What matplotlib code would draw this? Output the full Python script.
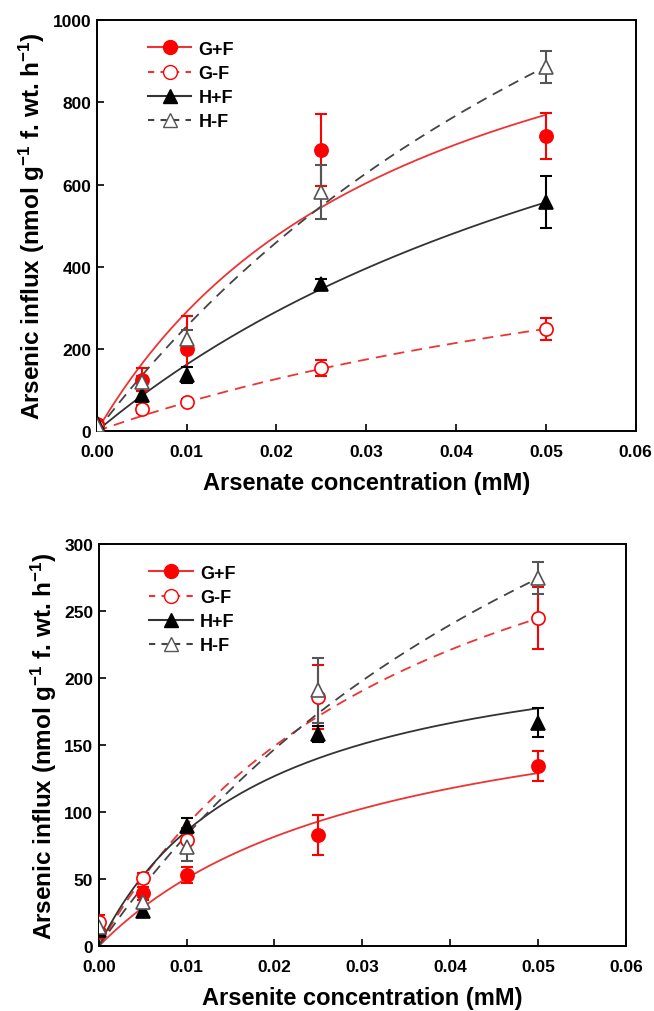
import numpy as np
import matplotlib
matplotlib.use('Agg')
import matplotlib.pyplot as plt

plt.rcParams['font.family'] = ['Liberation Sans', 'DejaVu Sans']
plt.rcParams['font.weight'] = 'bold'
plt.rcParams['axes.labelweight'] = 'bold'
plt.rcParams['mathtext.fontset'] = 'custom'
plt.rcParams['mathtext.rm'] = 'Liberation Sans:bold'
plt.rcParams['mathtext.it'] = 'Liberation Sans:bold'
plt.rcParams['mathtext.bf'] = 'Liberation Sans:bold'
plt.rcParams['mathtext.default'] = 'rm'

conc = [0.0, 0.005, 0.01, 0.025, 0.05]
labels = ['G+F', 'G-F', 'H+F', 'H-F']

# arsenate influx (top panel)
asv_mean = {
    'G+F': [18, 125, 200, 685, 718],
    'G-F': [12, 53, 71, 154, 249],
    'H+F': [20, 88, 137, 357, 558],
    'H-F': [15, 119, 224, 582, 886],
}
asv_err = {
    'G+F': [5, 28, 80, 88, 56],
    'G-F': [5, 10, 8, 20, 27],
    'H+F': [8, 18, 20, 14, 63],
    'H-F': [5, 14, 22, 65, 38],
}
# fitted kinetics (Vmax, Km) of the drawn curves
asv_fit = {
    'G+F': (1312, 0.0352),
    'G-F': (692, 0.089),
    'H+F': (1426, 0.078),
    'H-F': (2335, 0.0816),
}

# arsenite influx (bottom panel)
asi_mean = {
    'G+F': [11, 39.5, 53, 83, 134.5],
    'G-F': [18, 51, 79, 186, 245],
    'H+F': [12, 26, 90, 158.5, 167],
    'H-F': [14, 33, 74, 191, 275],
}
asi_err = {
    'G+F': [4, 5, 6, 15, 11],
    'G-F': [5, 4, 9, 24, 23],
    'H+F': [4, 4, 6, 6, 11],
    'H-F': [5, 5, 10, 24, 12],
}
asi_fit = {
    'G+F': (211, 0.0316),
    'G-F': (426, 0.037),
    'H+F': (242, 0.0181),
    'H-F': (651, 0.0685),
}

styles = {
    'G+F': dict(color='#ff0000', ls='-', marker='o', mfc='#ff0000', mec='#ff0000'),
    'G-F': dict(color='#ff0000', ls='--', marker='o', mfc='white', mec='#ff0000'),
    'H+F': dict(color='black', ls='-', marker='^', mfc='black', mec='black'),
    'H-F': dict(color='#333333', ls='--', marker='^', mfc='white', mec='#555555'),
}
line_col = {'G+F': '#ee3333', 'G-F': '#ee3333', 'H+F': '#333333', 'H-F': '#444444'}


def panel(ax, mean, err, fit, ymax, ystep, xlabel):
    xs = np.linspace(0, 0.05, 200)
    for lab in labels:
        st = styles[lab]
        vmax, km = fit[lab]
        dash = (0, (6, 4)) if st['ls'] == '--' else '-'
        ax.plot(xs, vmax * xs / (km + xs), color=line_col[lab], ls=dash, lw=1.3, zorder=2)
    for lab in labels:
        st = styles[lab]
        ax.errorbar(conc, mean[lab], yerr=err[lab], fmt='none', ecolor=st['mec'],
                    elinewidth=1.5, capsize=4, capthick=1.5, zorder=3)
        ax.plot(conc, mean[lab], ls='none', marker=st['marker'], ms=9.5,
                mfc=st['mfc'], mec=st['mec'], mew=1.2, zorder=4)
    # legend handles
    hs = []
    for lab in labels:
        st = styles[lab]
        dash = (0, (3, 3)) if st['ls'] == '--' else '-'
        h, = ax.plot([], [], color=line_col[lab], ls=dash, lw=1.5, marker=st['marker'],
                     ms=10, mfc=st['mfc'], mec=st['mec'], label=lab)
        hs.append(h)
    ax.legend(handles=hs, loc='upper left', bbox_to_anchor=(0.065, 0.99), frameon=False,
              fontsize=13, handlelength=2.4, handletextpad=0.4, labelspacing=0.4)
    ax.set_xlim(0, 0.06)
    ax.set_ylim(0, ymax)
    ax.set_xticks(np.arange(0, 0.061, 0.01))
    ax.set_xticklabels(['%.2f' % v for v in np.arange(0, 0.061, 0.01)])
    ax.set_yticks(np.arange(0, ymax + 1, ystep))
    ax.tick_params(direction='in', length=5, width=1.2, labelsize=12.5, top=False, right=False)
    ax.tick_params(axis='x', pad=9)
    ax.tick_params(axis='y', pad=4)
    for s in ax.spines.values():
        s.set_linewidth(1.4)
    ax.set_xlabel(xlabel, fontsize=17, labelpad=9)
    ax.set_ylabel('Arsenic influx (nmol g$^{-1}$ f. wt. h$^{-1}$)', fontsize=17.5, labelpad=4)


fig = plt.figure(figsize=(6.54, 10.12), dpi=100)
ax1 = fig.add_axes([0.148, 0.573, 0.824, 0.406])
ax2 = fig.add_axes([0.151, 0.064, 0.806, 0.397])

panel(ax1, asv_mean, asv_err, asv_fit, 1000, 200, 'Arsenate concentration (mM)')
panel(ax2, asi_mean, asi_err, asi_fit, 300, 50, 'Arsenite concentration (mM)')

fig.savefig('out.png', dpi=100)
